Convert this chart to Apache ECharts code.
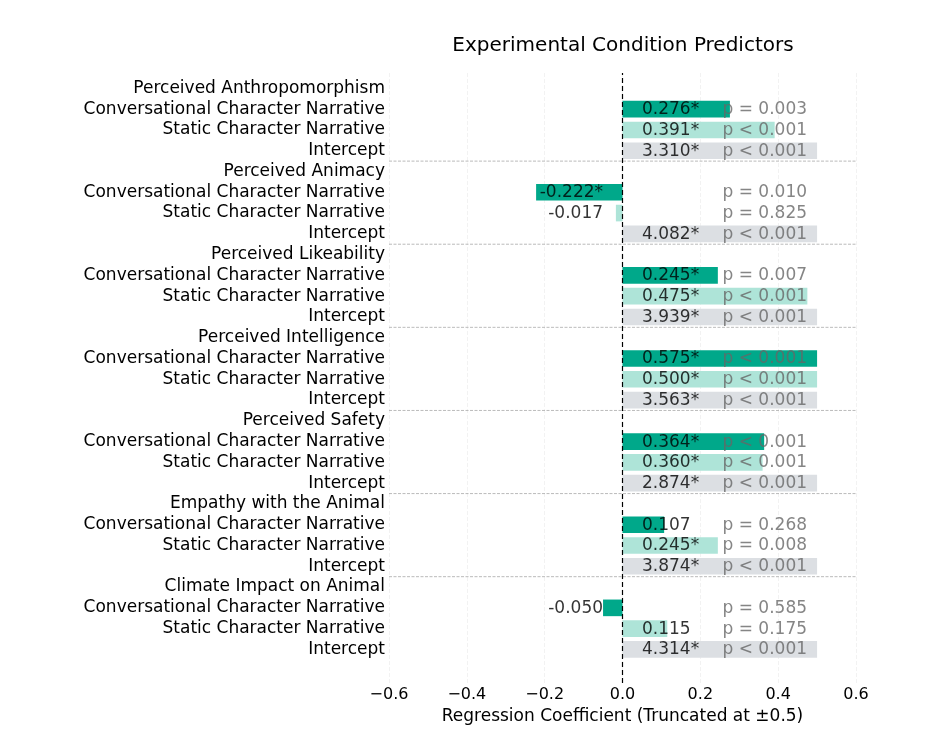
<!DOCTYPE html>
<html lang="en">
<head>
    <meta charset="UTF-8">
    <title>Experimental Condition Predictors</title>
    <script src="https://cdn.jsdelivr.net/npm/echarts@6/dist/echarts.min.js"></script>
    <style>
        html, body { margin: 0; padding: 0; background: #fff; }
    </style>
</head>
<body>
<div id="main" style="width: 930px;height:740px;"></div>
<script>
    // outcome groups, top to bottom
    var groupNames = [
        'Perceived Anthropomorphism',
        'Perceived Animacy',
        'Perceived Likeability',
        'Perceived Intelligence',
        'Perceived Safety',
        'Empathy with the Animal',
        'Climate Impact on Animal'
    ];
    var predictorNames = ['Conversational Character Narrative', 'Static Character Narrative', 'Intercept'];

    // coefficients per group
    var conversationalCoef = [0.276, -0.222, 0.245, 0.575, 0.364, 0.107, -0.050];
    var staticCoef = [0.391, -0.017, 0.475, 0.500, 0.360, 0.245, 0.115];
    var interceptCoef = [3.310, 4.082, 3.939, 3.563, 2.874, 3.874, 4.314];

    // p values (as printed)
    var conversationalP = ['0.003', '0.010', '0.007', '<0.001', '<0.001', '0.268', '0.585'];
    var staticP = ['<0.001', '0.825', '<0.001', '<0.001', '<0.001', '0.008', '0.175'];
    var interceptP = ['<0.001', '<0.001', '<0.001', '<0.001', '<0.001', '<0.001', '<0.001'];

    var xTicks = [-0.6, -0.4, -0.2, 0.0, 0.2, 0.4, 0.6];

    var colors = ['#00a88a', '#aee4d8', '#dcdfe3'];
    var TRUNC = 0.5;

    function isSig(p) {
        if (p.charAt(0) == '<') return true;
        return parseFloat(p) < 0.05;
    }
    function pText(p) {
        if (p.charAt(0) == '<') return 'p < ' + p.substring(1);
        return 'p = ' + p;
    }

    var rowLabels = [];
    var barData = [];
    var valLabels = [];
    var pLabels = [];
    for (var g = 0; g < groupNames.length; g++) {
        rowLabels.push(groupNames[g]);
        barData.push('-');
        var coefs = [conversationalCoef[g], staticCoef[g], interceptCoef[g]];
        var ps = [conversationalP[g], staticP[g], interceptP[g]];
        for (var k = 0; k < 3; k++) {
            var idx = rowLabels.length;
            rowLabels.push(predictorNames[k]);
            var v = coefs[k];
            var clipped = Math.max(-TRUNC, Math.min(TRUNC, v));
            barData.push({value: clipped, itemStyle: {color: colors[k]}});
            var txt = v.toFixed(3) + (isSig(ps[k]) ? '*' : '');
            valLabels.push({
                value: [v >= 0 ? 0.05 : -0.05, idx],
                label: {position: v >= 0 ? 'right' : 'left', formatter: txt}
            });
            pLabels.push({value: [0.257, idx], label: {formatter: pText(ps[k])}});
        }
    }

    var font = 'DejaVu Sans';
    var xMin = xTicks[0], xMax = xTicks[xTicks.length - 1];

    var series = [
        {
            type: 'bar',
            xAxisIndex: 1,
            yAxisIndex: 1,
            barWidth: '80%',
            data: barData,
            silent: true,
            z: 2
        },
        {
            type: 'line',
            xAxisIndex: 0,
            yAxisIndex: 0,
            data: [[0, 0], [0, 1]],
            symbol: 'none',
            silent: true,
            lineStyle: {color: '#000', width: 1.2, type: [5, 3]},
            z: 5
        },
        {
            type: 'scatter',
            xAxisIndex: 1,
            yAxisIndex: 1,
            symbolSize: 0,
            silent: true,
            data: valLabels,
            label: {show: true, distance: 0, offset: [0, 0.5], fontFamily: font, fontSize: 17, color: '#000'},
            z: 6
        },
        {
            type: 'scatter',
            xAxisIndex: 1,
            yAxisIndex: 1,
            symbolSize: 0,
            silent: true,
            data: pLabels,
            label: {show: true, position: 'right', distance: 0, offset: [0, 0.5], fontFamily: font, fontSize: 17, color: '#666666'},
            z: 6
        }
    ];

    // dashed separators between groups
    for (var s = 1; s < groupNames.length; s++) {
        var yb = s * 4 - 0.5;
        series.push({
            type: 'line',
            xAxisIndex: 1,
            yAxisIndex: 2,
            data: [[xMin, yb], [xMax, yb]],
            symbol: 'none',
            silent: true,
            lineStyle: {color: '#aaaaaa', width: 0.8, type: [3, 1.5]},
            z: 1
        });
    }

    var myChart = echarts.init(document.getElementById('main'));
    var option = {
        animation: false,
        title: {
            text: 'Experimental Condition Predictors',
            left: 618,
            textAlign: 'center',
            top: 31,
            textStyle: {fontFamily: font, fontSize: 20, fontWeight: 'normal', color: '#000'}
        },
        grid: [
            {left: 389, right: 74, top: 73, bottom: 57},
            {left: 389, right: 74, top: 78, bottom: 80.2}
        ],
        xAxis: [
            {
                gridIndex: 0,
                type: 'value',
                min: xMin,
                max: xMax,
                interval: 0.2,
                name: 'Regression Coefficient (Truncated at \u00b10.5)',
                nameLocation: 'middle',
                nameGap: 23,
                nameTextStyle: {fontFamily: font, fontSize: 17, color: '#000'},
                axisLine: {show: false},
                axisTick: {show: false},
                axisLabel: {
                    margin: 4,
                    fontFamily: font,
                    fontSize: 16,
                    color: '#000',
                    formatter: function (v) {
                        if (Math.abs(v) < 1e-9) return '0.0';
                        return v.toFixed(1).replace('-', '\u2212');
                    }
                },
                splitLine: {show: true, lineStyle: {color: '#efefef', width: 0.8, type: [4, 2]}}
            },
            {
                gridIndex: 1,
                type: 'value',
                min: xMin,
                max: xMax,
                show: false
            }
        ],
        yAxis: [
            {gridIndex: 0, type: 'value', min: 0, max: 1, show: false},
            {
                gridIndex: 1,
                type: 'category',
                inverse: true,
                data: rowLabels,
                axisLine: {show: false},
                axisTick: {show: false},
                axisLabel: {interval: 0, margin: 4, padding: [0, 0, 4, 0], fontFamily: font, fontSize: 17, color: '#000'},
                splitLine: {show: false}
            },
            {
                gridIndex: 1,
                type: 'value',
                inverse: true,
                min: -0.5,
                max: rowLabels.length - 0.5,
                show: false
            }
        ],
        series: series
    };
    myChart.setOption(option);
</script>
</body>
</html>
